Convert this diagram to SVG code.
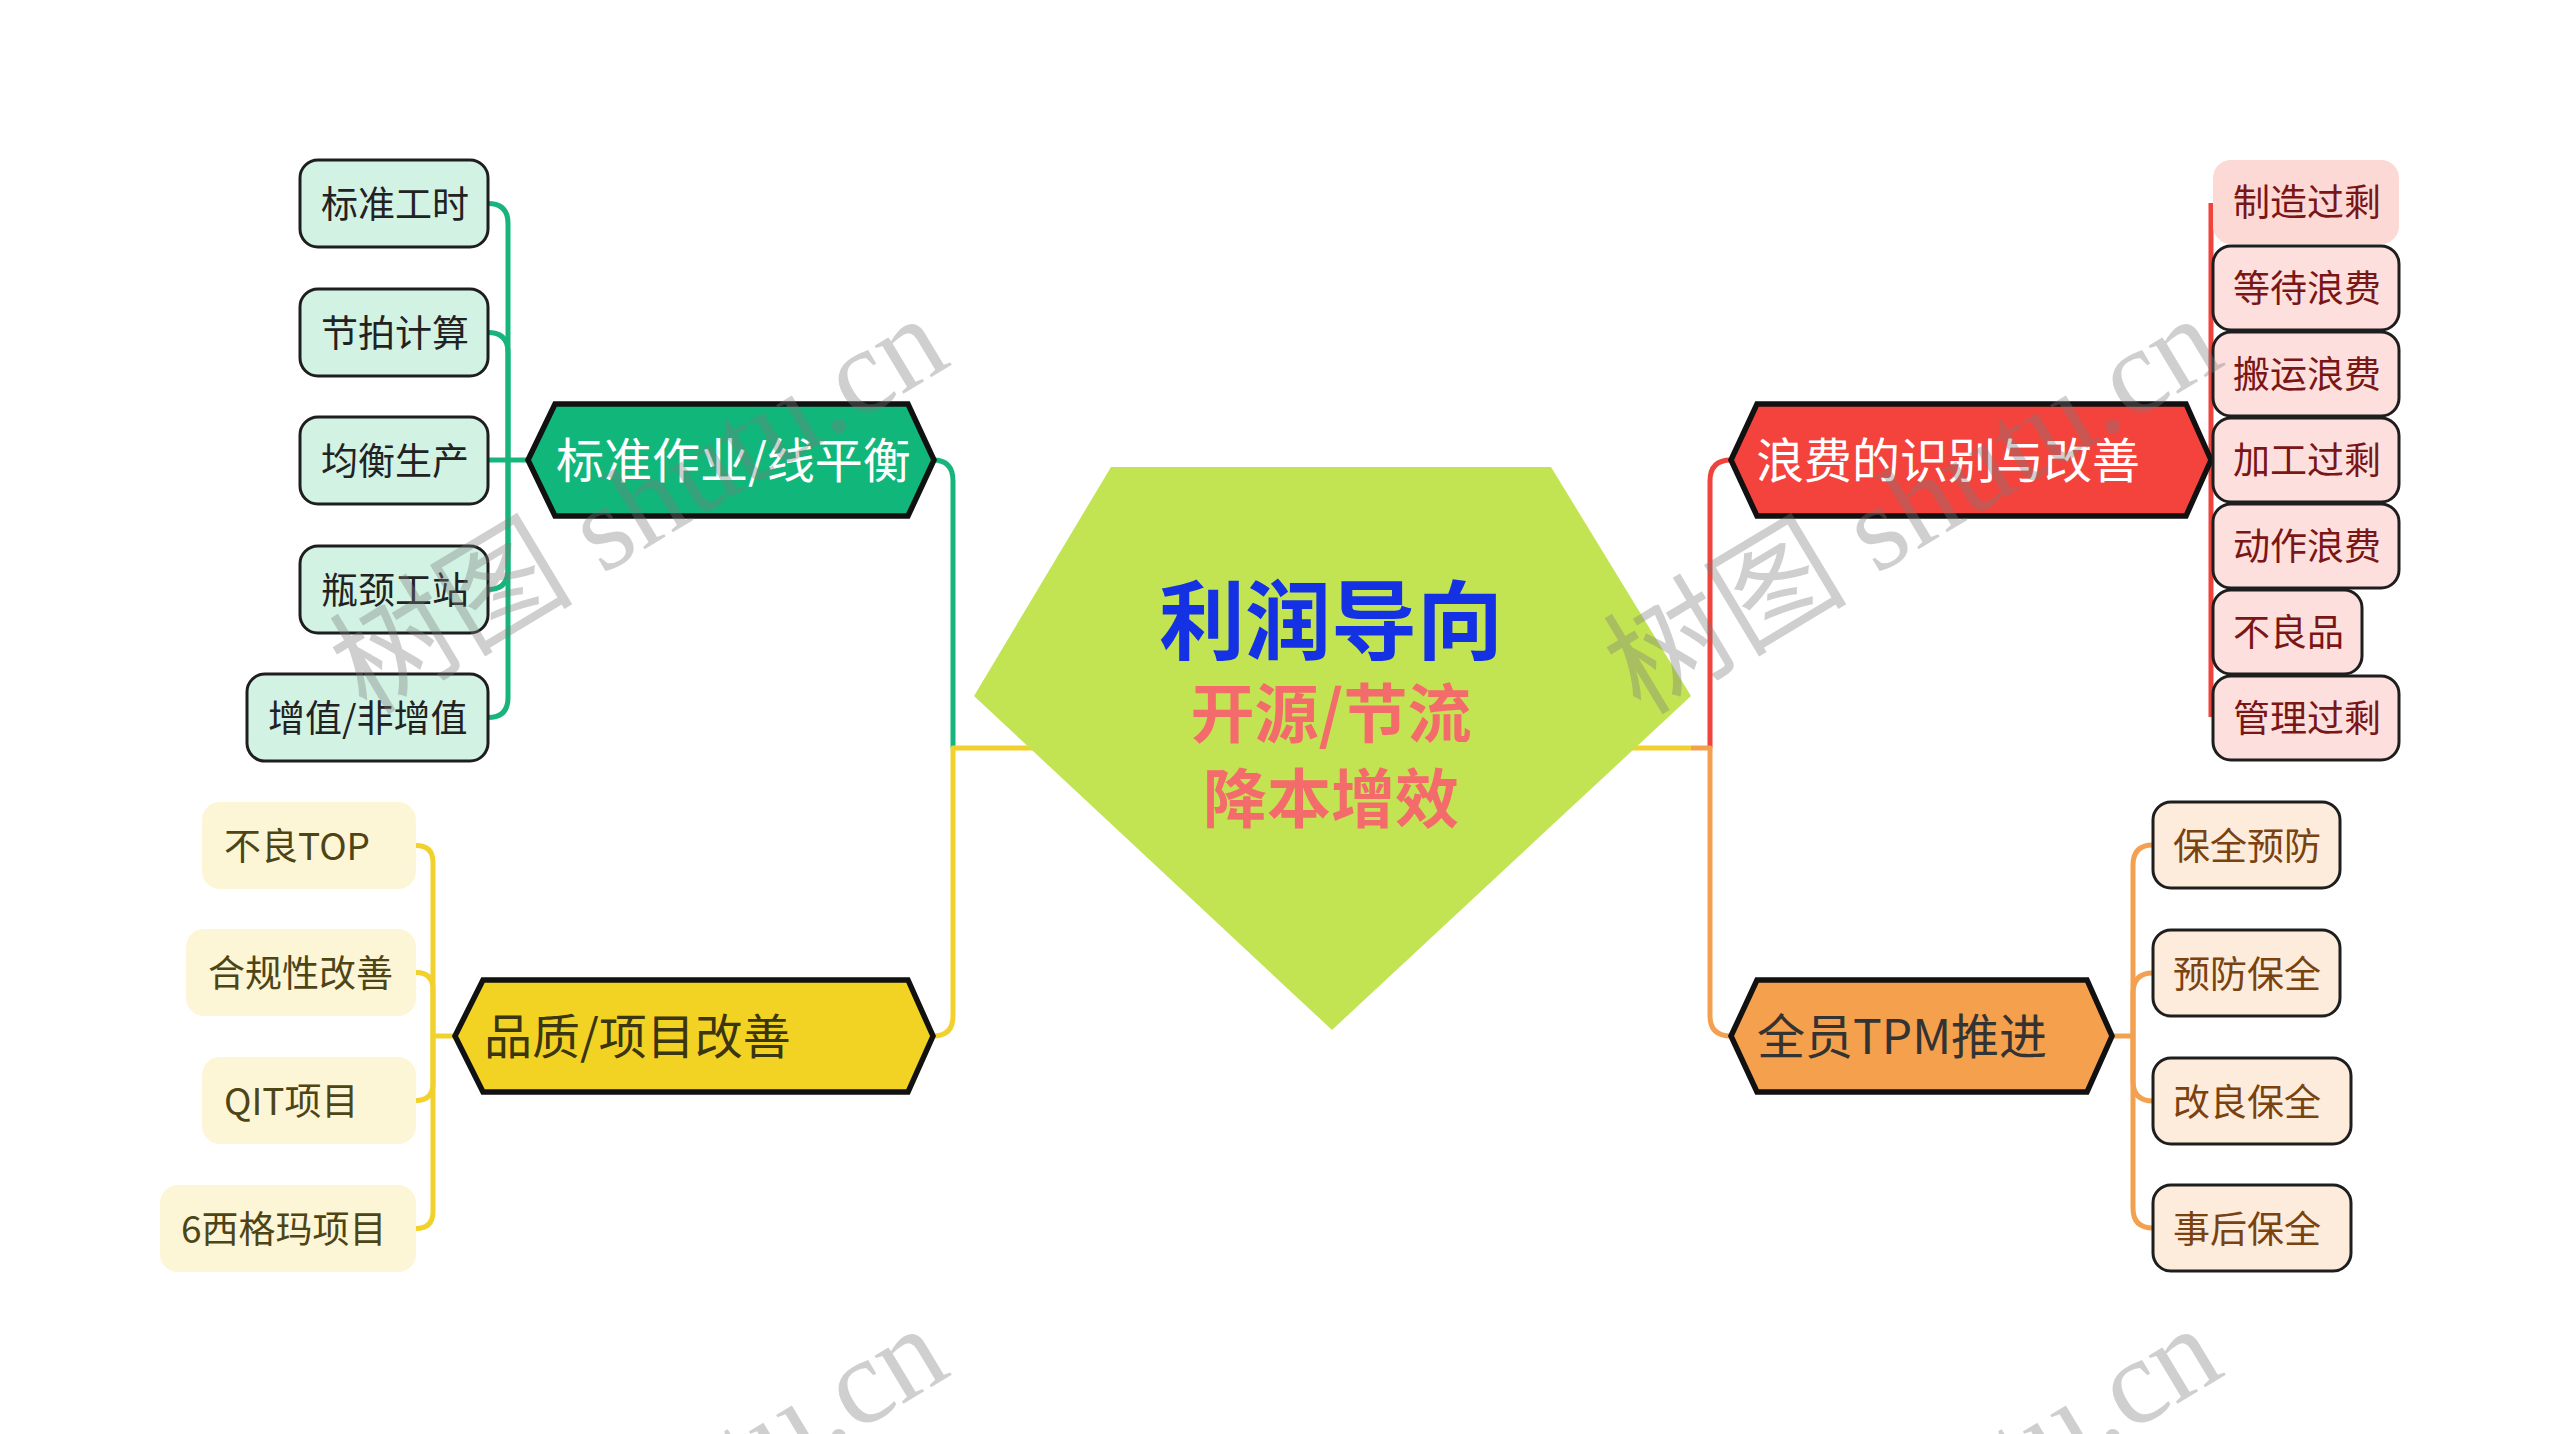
<svg xmlns="http://www.w3.org/2000/svg" width="2560" height="1434" viewBox="0 0 2560 1434">
<style>
.t{font-family:"Noto Sans CJK SC","Liberation Sans",sans-serif}
.hex{stroke:#111;stroke-width:5.5;stroke-linejoin:miter}
.box{stroke:#1e1e1e;stroke-width:3}
.ht{font-size:48px}
.ct{font-size:37px}
.c{fill:none;stroke-width:5;stroke-linejoin:round}
.wm{font-family:"Liberation Serif","Noto Sans CJK SC",serif;font-size:122px;fill:#7a7a7a;fill-opacity:0.36}
</style>
<rect width="2560" height="1434" fill="#ffffff"/>
<g id="connectors">
  <g>
    <path class="c" stroke="#17b57c" d="M953,748 L953,481 Q953,460 933,460"/>
    <path class="c" stroke="#17b57c" d="M488,203.5 Q508,203.5 508,223.5 L508,460"/>
    <path class="c" stroke="#17b57c" d="M488,332.5 Q508,332.5 508,352.5 L508,460"/>
    <path class="c" stroke="#17b57c" d="M488,460 L528,460"/>
    <path class="c" stroke="#17b57c" d="M488,589.5 Q508,589.5 508,569.5 L508,460"/>
    <path class="c" stroke="#17b57c" d="M488,717.5 Q508,717.5 508,697.5 L508,460"/>
  </g>
  <g>
    <path class="c" stroke="#f1d22c" d="M1691,748 L953,748 L953,1016 Q953,1036 933,1036"/>
    <path class="c" stroke="#f1d22c" d="M416,845.5 Q433,845.5 433,862.5 L433,1036"/>
    <path class="c" stroke="#f1d22c" d="M416,972.5 Q433,972.5 433,989.5 L433,1036"/>
    <path class="c" stroke="#f1d22c" d="M416,1100.5 Q433,1100.5 433,1083.5 L433,1036"/>
    <path class="c" stroke="#f1d22c" d="M416,1228.5 Q433,1228.5 433,1211.5 L433,1036"/>
    <path class="c" stroke="#f1d22c" d="M433,1036 L455,1036"/>
  </g>
  <g>
    <path class="c" stroke="#f0433c" d="M1710,748 L1710,481 Q1710,460 1731,460"/>
    <path class="c" stroke="#f0433c" d="M2211,203 L2211,717"/>
  </g>
  <g>
    <path class="c" stroke="#f3a050" d="M1691,748 L1710,748 L1710,1016 Q1710,1036 1731,1036"/>
    <path class="c" stroke="#f3a050" d="M2112,1036 L2133,1036"/>
    <path class="c" stroke="#f3a050" d="M2153,845 Q2133,845 2133,865 L2133,1036"/>
    <path class="c" stroke="#f3a050" d="M2153,973 Q2133,973 2133,993 L2133,1036"/>
    <path class="c" stroke="#f3a050" d="M2153,1101 Q2133,1101 2133,1081 L2133,1036"/>
    <path class="c" stroke="#f3a050" d="M2153,1228 Q2133,1228 2133,1208 L2133,1036"/>
  </g>
</g>

<g id="root">
  <polygon points="1111,467 1551,467 1691,696 1332,1030 974,696" fill="#c2e452"/>
  <text class="t" x="1331" y="653" text-anchor="middle" font-size="86" font-weight="bold" fill="#1432e4">利润导向</text>
  <text class="t" x="1331" y="737" text-anchor="middle" font-size="64" font-weight="bold" fill="#f46b6b">开源/节流</text>
  <text class="t" x="1331" y="822" text-anchor="middle" font-size="64" font-weight="bold" fill="#f46b6b">降本增效</text>
</g>

<g id="branch-green">
  <polygon class="hex" points="528,460 555,404 908,404 934,460 908,516 555,516" fill="#11b77a"/>
  <text class="t ht" x="556" y="478" fill="#ffffff">标准作业/线平衡</text>
</g>
<g id="g1"><rect class="box" x="300" y="160" width="188" height="87" rx="18" fill="#d2f2e4"/><text class="t ct" x="321" y="218" fill="#222">标准工时</text></g>
<g id="g2"><rect class="box" x="300" y="289" width="188" height="87" rx="18" fill="#d2f2e4"/><text class="t ct" x="321" y="347" fill="#222">节拍计算</text></g>
<g id="g3"><rect class="box" x="300" y="417" width="188" height="87" rx="18" fill="#d2f2e4"/><text class="t ct" x="321" y="475" fill="#222">均衡生产</text></g>
<g id="g4"><rect class="box" x="300" y="546" width="188" height="87" rx="18" fill="#d2f2e4"/><text class="t ct" x="321" y="604" fill="#222">瓶颈工站</text></g>
<g id="g5"><rect class="box" x="247" y="674" width="241" height="87" rx="18" fill="#d2f2e4"/><text class="t ct" x="268" y="732" fill="#222">增值/非增值</text></g>

<g id="branch-yellow">
  <polygon class="hex" points="455,1036 483,980 908,980 933,1036 908,1092 483,1092" fill="#f2d324"/>
  <text class="t ht" x="484" y="1054" fill="#3b3510">品质/项目改善</text>
</g>
<g id="y1"><rect x="202" y="802" width="214" height="87" rx="18" fill="#fdf6d6"/><text class="t ct" x="224" y="860" fill="#4d4516">不良TOP</text></g>
<g id="y2"><rect x="186" y="929" width="230" height="87" rx="18" fill="#fdf6d6"/><text class="t ct" x="208" y="987" fill="#4d4516">合规性改善</text></g>
<g id="y3"><rect x="202" y="1057" width="214" height="87" rx="18" fill="#fdf6d6"/><text class="t ct" x="224" y="1115" fill="#4d4516">QIT项目</text></g>
<g id="y4"><rect x="160" y="1185" width="256" height="87" rx="18" fill="#fdf6d6"/><text class="t ct" x="181" y="1243" fill="#4d4516">6西格玛项目</text></g>

<g id="branch-red">
  <polygon class="hex" points="1731,460 1757,404 2186,404 2211,460 2186,516 1757,516" fill="#f4433d"/>
  <text class="t ht" x="1756" y="478" fill="#ffffff">浪费的识别与改善</text>
</g>
<g id="r1"><rect x="2213" y="160" width="186" height="84" rx="18" fill="#fcd9d5"/><text class="t ct" x="2233" y="216" fill="#7a1616">制造过剩</text></g>
<g id="r2"><rect class="box" x="2213" y="246" width="186" height="84" rx="18" fill="#fde0dd"/><text class="t ct" x="2233" y="302" fill="#7a1616">等待浪费</text></g>
<g id="r3"><rect class="box" x="2213" y="332" width="186" height="84" rx="18" fill="#fde0dd"/><text class="t ct" x="2233" y="388" fill="#7a1616">搬运浪费</text></g>
<g id="r4"><rect class="box" x="2213" y="418" width="186" height="84" rx="18" fill="#fde0dd"/><text class="t ct" x="2233" y="474" fill="#7a1616">加工过剩</text></g>
<g id="r5"><rect class="box" x="2213" y="504" width="186" height="84" rx="18" fill="#fde0dd"/><text class="t ct" x="2233" y="560" fill="#7a1616">动作浪费</text></g>
<g id="r6"><rect class="box" x="2213" y="590" width="149" height="84" rx="18" fill="#fde0dd"/><text class="t ct" x="2233" y="646" fill="#7a1616">不良品</text></g>
<g id="r7"><rect class="box" x="2213" y="676" width="186" height="84" rx="18" fill="#fde0dd"/><text class="t ct" x="2233" y="732" fill="#7a1616">管理过剩</text></g>

<g id="branch-orange">
  <polygon class="hex" points="1731,1036 1757,980 2087,980 2112,1036 2087,1092 1757,1092" fill="#f4a04c"/>
  <text class="t ht" x="1757" y="1054" fill="#333333">全员TPM推进</text>
</g>
<g id="o1"><rect class="box" x="2153" y="802" width="187" height="86" rx="18" fill="#fdecdb"/><text class="t ct" x="2173" y="860" fill="#7a4210">保全预防</text></g>
<g id="o2"><rect class="box" x="2153" y="930" width="187" height="86" rx="18" fill="#fdecdb"/><text class="t ct" x="2173" y="988" fill="#7a4210">预防保全</text></g>
<g id="o3"><rect class="box" x="2153" y="1058" width="198" height="86" rx="18" fill="#fdecdb"/><text class="t ct" x="2173" y="1116" fill="#7a4210">改良保全</text></g>
<g id="o4"><rect class="box" x="2153" y="1185" width="198" height="86" rx="18" fill="#fdecdb"/><text class="t ct" x="2173" y="1243" fill="#7a4210">事后保全</text></g>

<g id="watermark">
  <text class="wm" text-anchor="middle" transform="translate(660,540) rotate(-31)">树图 shutu.cn</text>
  <text class="wm" text-anchor="middle" transform="translate(1934,540) rotate(-31)">树图 shutu.cn</text>
  <text class="wm" text-anchor="middle" transform="translate(660,1550) rotate(-31)">树图 shutu.cn</text>
  <text class="wm" text-anchor="middle" transform="translate(1934,1550) rotate(-31)">树图 shutu.cn</text>
</g>
</svg>
